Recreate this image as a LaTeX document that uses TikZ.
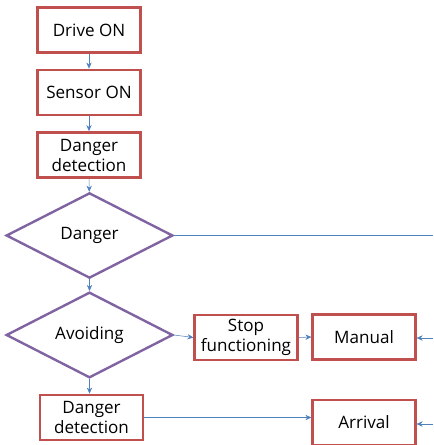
\documentclass[tikz,border=0pt]{standalone}
\usepackage{fontspec}
\setmainfont{Open Sans}
\usepackage{xcolor}
\usetikzlibrary{positioning,arrows.meta,shapes.geometric}

\definecolor{boxred}{RGB}{192,80,77}
\definecolor{decpurple}{RGB}{128,100,162}
\definecolor{flowblue}{RGB}{79,129,189}

\begin{document}
\begin{tikzpicture}[
    x=0.75pt, y=-0.75pt,
    stepbox/.style={rectangle, draw=boxred, line width=1.8pt, minimum width=77pt, minimum height=34pt, inner sep=1pt, align=center, font=\fontsize{12.8}{15}\selectfont},
    decision/.style={diamond, draw=decpurple, line width=1.8pt, minimum width=125pt, minimum height=64pt, inner sep=0pt, align=center, font=\fontsize{12.8}{15}\selectfont},
    arrow/.style={-{Stealth[length=1.6mm, width=1.4mm]}, thin, flowblue},
    plainline/.style={thin, flowblue},
]
\useasboundingbox (0,0) rectangle (433,445);

% === MAIN COLUMN (x=89) ===
\node[stepbox] (drive)  at (89, 30)  {Drive ON};
\node[stepbox] (sensor) at (89, 92.5)  {Sensor ON};
\node[stepbox] (detect) at (89, 155) {Danger\\detection};

\node[decision] (danger) at (89.5, 235.5) {Danger};
\node[decision] (avoid)  at (89.5, 335)   {Avoiding};

\node[stepbox] (detect2) at (91.5, 417.5) {Danger\\detection};

% === RIGHT SIDE ===
\node[stepbox] (stop)    at (246, 337.5) {Stop\\functioning};
\node[stepbox] (manual)  at (364, 337)   {Manual};
\node[stepbox] (arrival) at (364, 422.5) {Arrival};

% free ends at the right border
\coordinate (dangerR)  at (433, 235.5);
\coordinate (manualR)  at (433, 338);
\coordinate (arrivalR) at (433, 424);

% =======================================================================
% ARROWS
% =======================================================================

% --- main flow, top to bottom ---
\draw[arrow] (drive) -- (sensor);
\draw[arrow] (sensor) -- (detect);
\draw[arrow] (detect) -- (danger);
\draw[arrow] (danger) -- (avoid);
\draw[arrow] (avoid.south) -- (avoid.south |- detect2.north);

% --- danger branch runs off to the right ---
\draw[plainline] (danger.east) -- (dangerR);

% --- avoiding branch ---
\draw[arrow] (avoid.east) -- (stop.west);
\draw[arrow] (stop.east) -- (manual.west);
\draw[arrow] (detect2.east) -- (detect2.east -| arrival.west);

% --- incoming from the right ---
\draw[arrow] (manualR) -- (manual.east |- manualR);
\draw[arrow] (arrivalR) -- (arrival.east |- arrivalR);

\end{tikzpicture}
\end{document}
